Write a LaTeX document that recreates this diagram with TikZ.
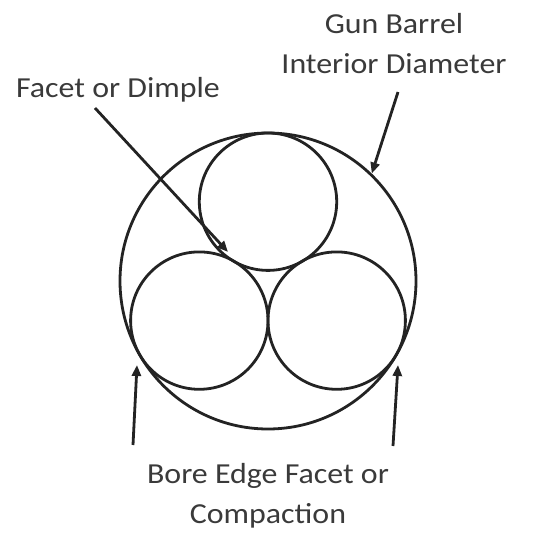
\documentclass[tikz,border=0pt]{standalone}
\usepackage{fontspec}
\setmainfont{Carlito}[FakeStretch=1.1]
\usepackage{xcolor}
\usetikzlibrary{arrows.meta,positioning}
\definecolor{inkgray}{HTML}{232323}
\definecolor{textgray}{HTML}{3A3A3A}
\tikzset{
  borecircle/.style={circle, draw=inkgray, line width=2.8pt, minimum size=296pt, inner sep=0pt},
  pellet/.style={circle, draw=inkgray, line width=2.8pt, minimum size=137.4pt, inner sep=0pt},
  pointer/.style={inkgray, line width=2.8pt, -{Triangle[length=11pt,width=9pt]}},
  labeltext/.style={text=textgray, font=\fontsize{29}{40}\selectfont, align=center, inner sep=0pt}
}
\begin{document}
\begin{tikzpicture}[x=1pt,y=-1pt]
  \useasboundingbox (0,0) rectangle (533,536);
  % barrel and the three pellets
  \node[borecircle] (bore) at (268,281) {};
  \node[pellet] (toppellet) at (268,201.7) {};
  \node[pellet] (leftpellet) at (199.3,320.6) {};
  \node[pellet] (rightpellet) at (336.7,320.6) {};
  % labels
  \node[labeltext] (barrel) at (394,44) {Gun Barrel\\Interior Diameter};
  \node[labeltext] (facet) at (118,90) {Facet or Dimple};
  \node[labeltext] (edge) at (268,496) {Bore Edge Facet or\\Compaction};
  % arrow ends
  \coordinate (barreltail) at (398,92);
  \coordinate (facettail) at (95,108);
  \coordinate (facettip) at (228,252);
  \coordinate (lefttail) at (133,445);
  \coordinate (lefttip) at (137,365);
  \coordinate (righttail) at (393,446);
  \coordinate (righttip) at (398,365);
  \draw[pointer] (barreltail) -- (bore.46);
  \draw[pointer] (facettail) -- (facettip);
  \draw[pointer] (lefttail) -- (lefttip);
  \draw[pointer] (righttail) -- (righttip);
\end{tikzpicture}
\end{document}
